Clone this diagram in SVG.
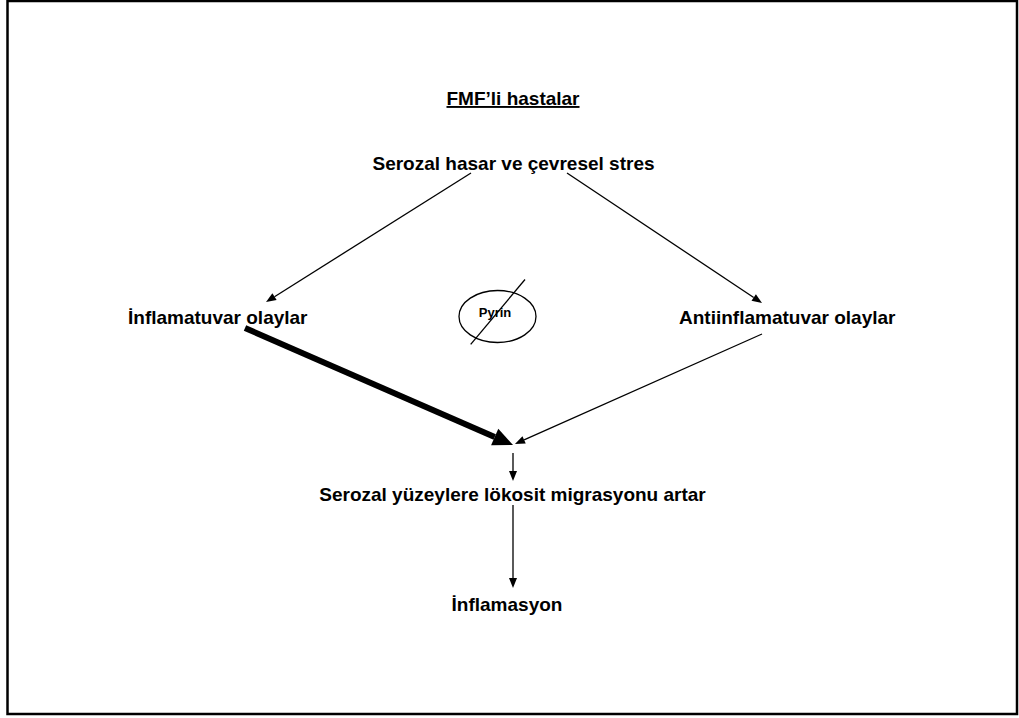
<svg xmlns="http://www.w3.org/2000/svg" width="1019" height="718" viewBox="0 0 1019 718">
<style>
.t{font-family:"Liberation Sans",Arial,sans-serif;font-weight:bold;font-size:19px;fill:#000}
.c{stroke:#000;stroke-width:1.3;fill:none}
</style>
<defs>
<marker id="ah" markerUnits="userSpaceOnUse" markerWidth="11" markerHeight="9" refX="0" refY="4" orient="auto" overflow="visible"><path d="M0,0 L10,4 L0,8 z" fill="#000"/></marker>
<marker id="ahb" markerUnits="userSpaceOnUse" markerWidth="21" markerHeight="19" refX="0" refY="9" orient="auto" overflow="visible"><path d="M0,0 L20,9 L0,18 z" fill="#000"/></marker>
</defs>
<rect x="0" y="0" width="1019" height="718" fill="#fff"/>
<rect x="7.5" y="1" width="1009.5" height="713" fill="none" stroke="#000" stroke-width="2.5"/>
<g id="title"><text class="t" x="513" y="105" text-anchor="middle" text-decoration="underline">FMF’li hastalar</text></g>
<g id="n-serozal-hasar"><text class="t" x="513.5" y="170" text-anchor="middle">Serozal hasar ve çevresel stres</text></g>
<g id="n-inflamatuvar"><text class="t" x="128" y="324">İnflamatuvar olaylar</text></g>
<g id="n-antiinflamatuvar"><text class="t" x="679" y="324">Antiinflamatuvar olaylar</text></g>
<g id="n-pyrin">
<ellipse cx="497.5" cy="316.5" rx="38.5" ry="26" fill="none" stroke="#000" stroke-width="1.3"/>
<text x="495" y="317" text-anchor="middle" style="font-family:'Liberation Sans',Arial,sans-serif;font-weight:bold;font-size:13px">Pyrin</text>
<line x1="525" y1="279.5" x2="470.7" y2="344.3" stroke="#000" stroke-width="1.3"/>
</g>
<g id="n-migrasyon"><text class="t" x="512.5" y="501" text-anchor="middle">Serozal yüzeylere lökosit migrasyonu artar</text></g>
<g id="n-inflamasyon"><text class="t" x="507" y="611" text-anchor="middle">İnflamasyon</text></g>
<g id="connectors">
<line class="c" x1="471" y1="173" x2="274.5" y2="296.7" marker-end="url(#ah)"/>
<line class="c" x1="567" y1="173" x2="753.7" y2="297.5" marker-end="url(#ah)"/>
<line x1="245" y1="328" x2="494.7" y2="437" stroke="#000" stroke-width="6" marker-end="url(#ahb)"/>
<line class="c" x1="762" y1="334" x2="524.1" y2="439.9" marker-end="url(#ah)"/>
<line class="c" x1="513" y1="453" x2="513" y2="471" marker-end="url(#ah)"/>
<line class="c" x1="513" y1="505" x2="513" y2="578" marker-end="url(#ah)"/>
</g>
</svg>
